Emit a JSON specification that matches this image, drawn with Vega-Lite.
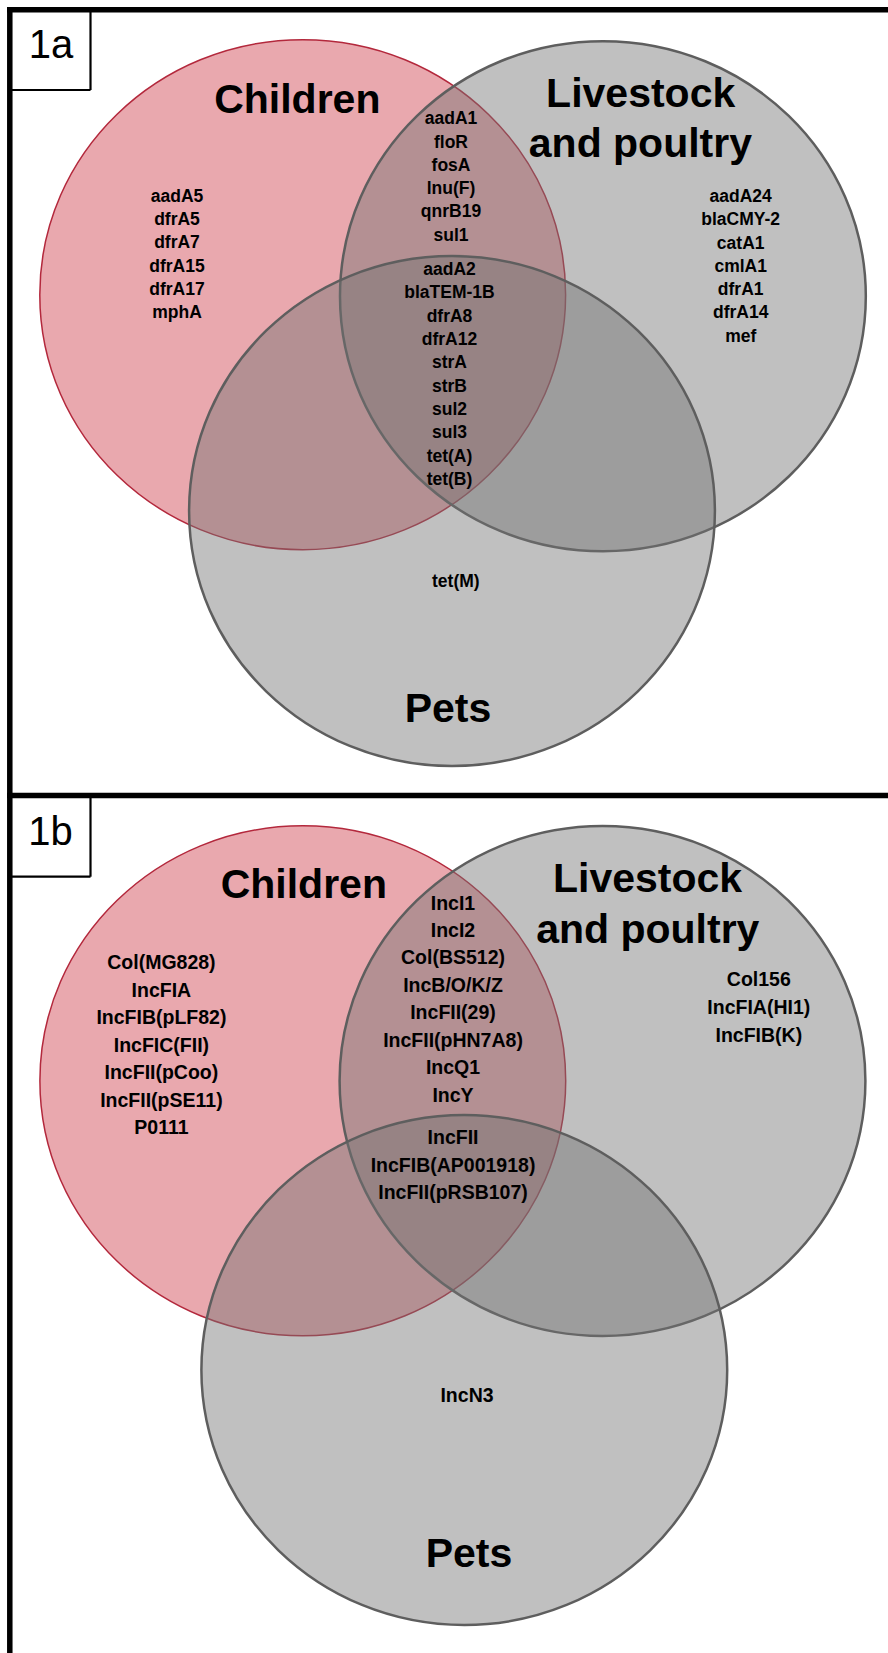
{
  "$schema": "https://vega.github.io/schema/vega-lite/v6.json",
  "width": 888,
  "height": 1653,
  "autosize": "none",
  "padding": 0,
  "background": "white",
  "config": {"view": {"stroke": null}},
  "datasets": {
    "sets": [
      {"panel": "1a", "set": "Children", "x": 302.7, "y": 294.7},
      {"panel": "1a", "set": "Livestock and poultry", "x": 602.9, "y": 296.2},
      {"panel": "1a", "set": "Pets", "x": 452, "y": 511},
      {"panel": "1b", "set": "Children", "x": 302.8, "y": 1080.8},
      {"panel": "1b", "set": "Livestock and poultry", "x": 602.5, "y": 1081},
      {"panel": "1b", "set": "Pets", "x": 464.3, "y": 1370}
    ],
    "frame": [
      {"kind": "thick", "x": 7, "y": 9.7, "x2": 888, "y2": 9.7},
      {"kind": "thick", "x": 9.8, "y": 7, "x2": 9.8, "y2": 1653},
      {"kind": "thick", "x": 7, "y": 795.5, "x2": 888, "y2": 795.5},
      {"kind": "thin", "x": 90.5, "y": 9.7, "x2": 90.5, "y2": 90},
      {"kind": "thin", "x": 9.8, "y": 90, "x2": 90.5, "y2": 90},
      {"kind": "thin", "x": 90.5, "y": 795.5, "x2": 90.5, "y2": 876.7},
      {"kind": "thin", "x": 9.8, "y": 876.7, "x2": 90.5, "y2": 876.7}
    ],
    "tags": [
      {"text": "1a", "x": 51, "y": 58.3},
      {"text": "1b", "x": 50.4, "y": 845}
    ],
    "headings": [
      {"panel": "1a", "text": "Children", "x": 297.3, "y": 112.7},
      {"panel": "1a", "text": "Livestock", "x": 640.7, "y": 107.3},
      {"panel": "1a", "text": "and poultry", "x": 640.4, "y": 156.7},
      {"panel": "1a", "text": "Pets", "x": 448, "y": 721.7},
      {"panel": "1b", "text": "Children", "x": 303.8, "y": 898.3},
      {"panel": "1b", "text": "Livestock", "x": 647.6, "y": 891.7},
      {"panel": "1b", "text": "and poultry", "x": 647.8, "y": 942.7},
      {"panel": "1b", "text": "Pets", "x": 469, "y": 1566.7}
    ],
    "items": [
      {"panel": "1a", "region": "Children only", "text": "aadA5", "x": 177, "y": 196.7},
      {"panel": "1a", "region": "Children only", "text": "dfrA5", "x": 177, "y": 220},
      {"panel": "1a", "region": "Children only", "text": "dfrA7", "x": 177, "y": 243.3},
      {"panel": "1a", "region": "Children only", "text": "dfrA15", "x": 177, "y": 266.7},
      {"panel": "1a", "region": "Children only", "text": "dfrA17", "x": 177, "y": 290},
      {"panel": "1a", "region": "Children only", "text": "mphA", "x": 177, "y": 313.3},
      {"panel": "1a", "region": "Children & Livestock", "text": "aadA1", "x": 451, "y": 119},
      {"panel": "1a", "region": "Children & Livestock", "text": "floR", "x": 451, "y": 142.5},
      {"panel": "1a", "region": "Children & Livestock", "text": "fosA", "x": 451, "y": 165.8},
      {"panel": "1a", "region": "Children & Livestock", "text": "lnu(F)", "x": 451, "y": 189},
      {"panel": "1a", "region": "Children & Livestock", "text": "qnrB19", "x": 451, "y": 212.3},
      {"panel": "1a", "region": "Children & Livestock", "text": "sul1", "x": 451, "y": 235.7},
      {"panel": "1a", "region": "All three", "text": "aadA2", "x": 449.5, "y": 270},
      {"panel": "1a", "region": "All three", "text": "blaTEM-1B", "x": 449.5, "y": 293.3},
      {"panel": "1a", "region": "All three", "text": "dfrA8", "x": 449.5, "y": 316.7},
      {"panel": "1a", "region": "All three", "text": "dfrA12", "x": 449.5, "y": 340},
      {"panel": "1a", "region": "All three", "text": "strA", "x": 449.5, "y": 363.3},
      {"panel": "1a", "region": "All three", "text": "strB", "x": 449.5, "y": 386.7},
      {"panel": "1a", "region": "All three", "text": "sul2", "x": 449.5, "y": 410},
      {"panel": "1a", "region": "All three", "text": "sul3", "x": 449.5, "y": 433.3},
      {"panel": "1a", "region": "All three", "text": "tet(A)", "x": 449.5, "y": 457},
      {"panel": "1a", "region": "All three", "text": "tet(B)", "x": 449.5, "y": 480},
      {"panel": "1a", "region": "Livestock only", "text": "aadA24", "x": 740.7, "y": 197.3},
      {"panel": "1a", "region": "Livestock only", "text": "blaCMY-2", "x": 740.7, "y": 220.3},
      {"panel": "1a", "region": "Livestock only", "text": "catA1", "x": 740.7, "y": 243.7},
      {"panel": "1a", "region": "Livestock only", "text": "cmlA1", "x": 740.7, "y": 266.7},
      {"panel": "1a", "region": "Livestock only", "text": "dfrA1", "x": 740.7, "y": 290},
      {"panel": "1a", "region": "Livestock only", "text": "dfrA14", "x": 740.7, "y": 313.3},
      {"panel": "1a", "region": "Livestock only", "text": "mef", "x": 740.7, "y": 336.7},
      {"panel": "1a", "region": "Pets only", "text": "tet(M)", "x": 455.8, "y": 581.7},
      {"panel": "1b", "region": "Children only", "text": "Col(MG828)", "x": 161.4, "y": 963.3},
      {"panel": "1b", "region": "Children only", "text": "IncFIA", "x": 161.4, "y": 990.7},
      {"panel": "1b", "region": "Children only", "text": "IncFIB(pLF82)", "x": 161.4, "y": 1018.3},
      {"panel": "1b", "region": "Children only", "text": "IncFIC(FII)", "x": 161.4, "y": 1046},
      {"panel": "1b", "region": "Children only", "text": "IncFII(pCoo)", "x": 161.4, "y": 1073.3},
      {"panel": "1b", "region": "Children only", "text": "IncFII(pSE11)", "x": 161.4, "y": 1101},
      {"panel": "1b", "region": "Children only", "text": "P0111", "x": 161.4, "y": 1128.3},
      {"panel": "1b", "region": "Children & Livestock", "text": "IncI1", "x": 453, "y": 904},
      {"panel": "1b", "region": "Children & Livestock", "text": "IncI2", "x": 453, "y": 930.7},
      {"panel": "1b", "region": "Children & Livestock", "text": "Col(BS512)", "x": 453, "y": 958.3},
      {"panel": "1b", "region": "Children & Livestock", "text": "IncB/O/K/Z", "x": 453, "y": 985.7},
      {"panel": "1b", "region": "Children & Livestock", "text": "IncFII(29)", "x": 453, "y": 1013.3},
      {"panel": "1b", "region": "Children & Livestock", "text": "IncFII(pHN7A8)", "x": 453, "y": 1040.7},
      {"panel": "1b", "region": "Children & Livestock", "text": "IncQ1", "x": 453, "y": 1068.3},
      {"panel": "1b", "region": "Children & Livestock", "text": "IncY", "x": 453, "y": 1096},
      {"panel": "1b", "region": "All three", "text": "IncFII", "x": 453, "y": 1138.3},
      {"panel": "1b", "region": "All three", "text": "IncFIB(AP001918)", "x": 453, "y": 1166},
      {"panel": "1b", "region": "All three", "text": "IncFII(pRSB107)", "x": 453, "y": 1193.3},
      {"panel": "1b", "region": "Livestock only", "text": "Col156", "x": 758.8, "y": 980},
      {"panel": "1b", "region": "Livestock only", "text": "IncFIA(HI1)", "x": 758.8, "y": 1008.3},
      {"panel": "1b", "region": "Livestock only", "text": "IncFIB(K)", "x": 758.8, "y": 1035.7},
      {"panel": "1b", "region": "Pets only", "text": "IncN3", "x": 467, "y": 1396}
    ]
  },
  "encoding": {
    "x": {"field": "x", "type": "quantitative", "scale": {"domain": [0, 888], "nice": false, "zero": false}, "axis": null},
    "y": {"field": "y", "type": "quantitative", "scale": {"domain": [0, 1653], "nice": false, "zero": false, "reverse": true}, "axis": null}
  },
  "layer": [
    {
      "data": {"name": "sets"},
      "transform": [{"filter": "datum.set === 'Children'"}],
      "mark": {
        "type": "point",
        "shape": "M -1.031 0 C -1.031 -0.552 -0.569 -1 0 -1 C 0.569 -1 1.031 -0.552 1.031 0 C 1.031 0.552 0.569 1 0 1 C -0.569 1 -1.031 0.552 -1.031 0 Z",
        "size": 260100,
        "filled": true,
        "fill": "#e9a8ae",
        "opacity": 1,
        "fillOpacity": 1,
        "stroke": "#b3283c",
        "strokeWidth": 1.5
      }
    },
    {
      "data": {"name": "sets"},
      "transform": [{"filter": "datum.set !== 'Children'"}],
      "mark": {
        "type": "point",
        "shape": "M -1.031 0 C -1.031 -0.552 -0.569 -1 0 -1 C 0.569 -1 1.031 -0.552 1.031 0 C 1.031 0.552 0.569 1 0 1 C -0.569 1 -1.031 0.552 -1.031 0 Z",
        "size": 260100,
        "filled": true,
        "fill": "#737373",
        "opacity": 1,
        "fillOpacity": 0.45,
        "stroke": "#5e5e5e",
        "strokeWidth": 2.5
      }
    },
    {
      "data": {"name": "frame"},
      "transform": [{"filter": "datum.kind === 'thick'"}],
      "mark": {"type": "rule", "color": "black", "strokeWidth": 5.5},
      "encoding": {
        "x2": {"field": "x2"},
        "y2": {"field": "y2"}
      }
    },
    {
      "data": {"name": "frame"},
      "transform": [{"filter": "datum.kind === 'thin'"}],
      "mark": {"type": "rule", "color": "black", "strokeWidth": 2.2},
      "encoding": {
        "x2": {"field": "x2"},
        "y2": {"field": "y2"}
      }
    },
    {
      "data": {"name": "tags"},
      "mark": {"type": "text", "font": "Liberation Sans", "fontSize": 40, "fontWeight": "normal", "align": "center", "baseline": "alphabetic", "color": "black"},
      "encoding": {"text": {"field": "text"}}
    },
    {
      "data": {"name": "headings"},
      "mark": {"type": "text", "font": "Liberation Sans", "fontSize": 41, "fontWeight": "bold", "align": "center", "baseline": "alphabetic", "color": "black"},
      "encoding": {"text": {"field": "text"}}
    },
    {
      "data": {"name": "items"},
      "transform": [{"filter": "datum.panel === '1a'"}],
      "mark": {"type": "text", "font": "Liberation Sans", "fontSize": 17.5, "fontWeight": "bold", "align": "center", "baseline": "middle", "color": "black"},
      "encoding": {"text": {"field": "text"}}
    },
    {
      "data": {"name": "items"},
      "transform": [{"filter": "datum.panel === '1b'"}],
      "mark": {"type": "text", "font": "Liberation Sans", "fontSize": 19.5, "fontWeight": "bold", "align": "center", "baseline": "middle", "color": "black"},
      "encoding": {"text": {"field": "text"}}
    }
  ]
}
